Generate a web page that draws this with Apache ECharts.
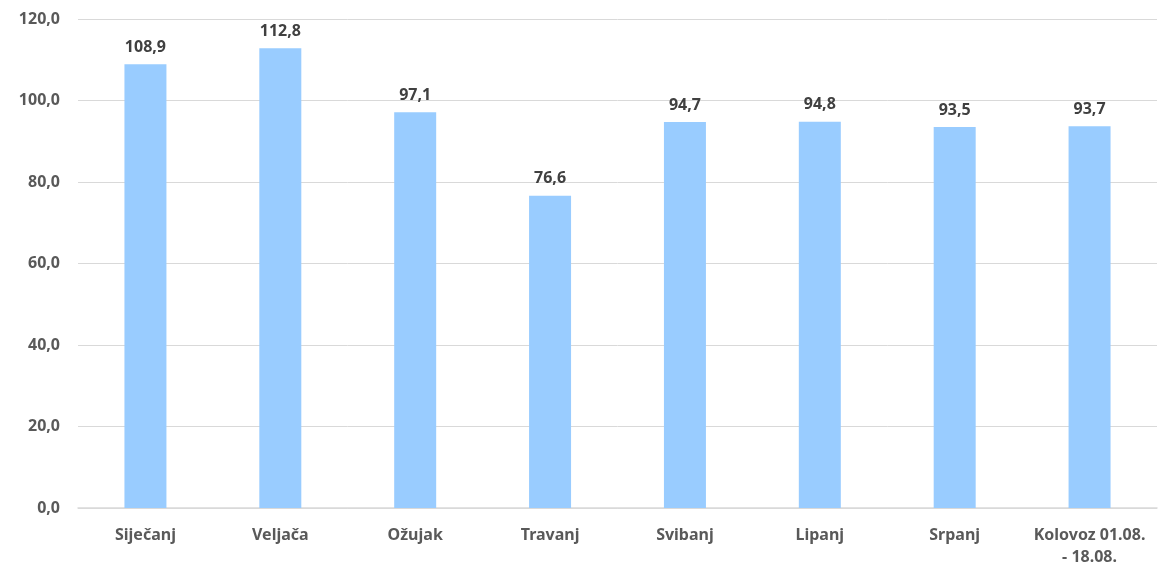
<!DOCTYPE html>
<html>
<head>
<meta charset="utf-8">
<script src="https://cdn.jsdelivr.net/npm/echarts@6/dist/echarts.min.js"></script>
<style>
  html, body { margin: 0; padding: 0; background: #fff; }
  #chart { width: 1158px; height: 568px; }
</style>
</head>
<body>
<div id="chart"></div>
<script>
// months (last one is a partial month)
const categories = ['Siječanj', 'Veljača', 'Ožujak', 'Travanj', 'Svibanj', 'Lipanj', 'Srpanj', 'Kolovoz 01.08.\n- 18.08.'];
const values = [108.9, 112.8, 97.1, 76.6, 94.7, 94.8, 93.5, 93.7];

const fmt = v => v.toFixed(1).replace('.', ',');
const font = '"Noto Sans", "Open Sans", sans-serif';

const chart = echarts.init(document.getElementById('chart'));
chart.setOption({
  animation: false,
  grid: { left: 78, right: 1, top: 19, bottom: 60 },
  xAxis: {
    type: 'category',
    data: categories,
    axisLine: { lineStyle: { color: '#d9d9d9', width: 1.5 } },
    axisTick: { show: false },
    axisLabel: {
      color: '#595959',
      fontFamily: font,
      fontWeight: 'bold',
      fontSize: 16,
      margin: 16,
      lineHeight: 22,
      interval: 0
    }
  },
  yAxis: {
    type: 'value',
    min: 0,
    max: 120,
    interval: 20,
    axisLine: { show: false },
    axisTick: { show: false },
    splitLine: { lineStyle: { color: '#d9d9d9', width: 1 } },
    axisLabel: {
      color: '#595959',
      fontFamily: font,
      fontWeight: 'bold',
      fontSize: 16,
      margin: 18,
      formatter: fmt
    }
  },
  series: [
    {
      type: 'bar',
      data: values,
      barWidth: 42,
      itemStyle: { color: '#99ccff' },
      label: {
        show: true,
        position: 'top',
        distance: 9,
        color: '#404040',
        fontFamily: font,
        fontWeight: 'bold',
        fontSize: 16,
        formatter: p => fmt(p.value)
      }
    }
  ]
});
</script>
</body>
</html>
